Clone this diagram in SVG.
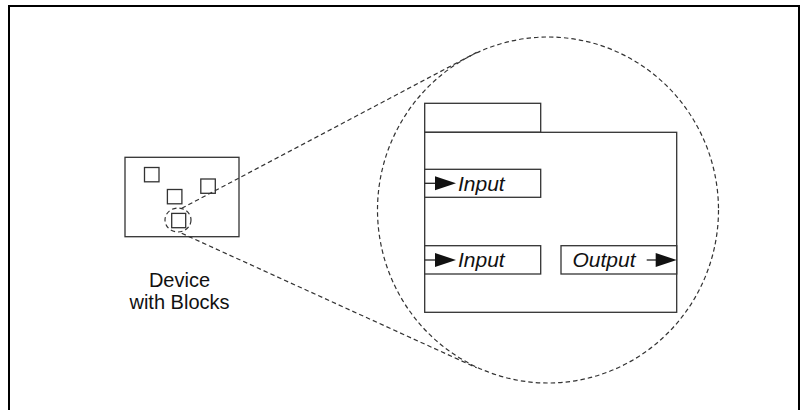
<svg xmlns="http://www.w3.org/2000/svg" width="800" height="410" viewBox="0 0 800 410">
<style>
.box{fill:#fff;stroke:#333;stroke-width:1.3}
.dash{fill:none;stroke:#333;stroke-width:1.2;stroke-dasharray:4.5 3}
.lbl{font-family:"Liberation Sans",Arial,sans-serif;font-size:20px;fill:#111}
.port{font-family:"Liberation Sans",Arial,sans-serif;font-size:21px;font-style:italic;fill:#111}
.wire{stroke:#222;stroke-width:1.3}
.tri{fill:#111}
</style>
<rect width="800" height="410" fill="#fff"/>
<g id="frame">
<path d="M9,410 V6 H799 V410" fill="none" stroke="#000" stroke-width="2"/>
</g>
<g id="device">
<rect class="box" x="125" y="157.3" width="114" height="79.4"/>
<rect class="box" x="144.5" y="167.5" width="14.5" height="14.3"/>
<rect class="box" x="200.8" y="179" width="14.5" height="14.3"/>
<rect class="box" x="167.4" y="189.5" width="14.5" height="14.3"/>
<rect class="box" x="171.7" y="213.4" width="14" height="14.3"/>
<text class="lbl" x="179.5" y="286.5" text-anchor="middle">Device</text>
<text class="lbl" x="179.5" y="309.3" text-anchor="middle">with Blocks</text>
</g>
<g id="connectors">
<ellipse class="dash" cx="178" cy="220" rx="13" ry="12"/>
<line class="dash" x1="181.7" y1="208.3" x2="476.7" y2="52.4"/>
<line class="dash" x1="181.7" y1="233.3" x2="476.7" y2="367.8"/>
<ellipse class="dash" cx="548" cy="210" rx="170.5" ry="173"/>
</g>
<g id="block">
<rect class="box" x="424.7" y="103.3" width="116" height="29"/>
<rect class="box" x="424.7" y="132.3" width="252" height="180"/>
</g>
<g id="input1">
<rect class="box" x="424.7" y="169.3" width="116" height="28"/>
<line class="wire" x1="424.7" y1="183.3" x2="437" y2="183.3"/>
<polygon class="tri" points="435,176.3 456,183.3 435,190.3"/>
<text class="port" x="458" y="190.5">Input</text>
</g>
<g id="input2">
<rect class="box" x="424.7" y="245.7" width="116" height="28.3"/>
<line class="wire" x1="424.7" y1="260" x2="437" y2="260"/>
<polygon class="tri" points="435,253 456,260 435,267"/>
<text class="port" x="458" y="267">Input</text>
</g>
<g id="output">
<rect class="box" x="561" y="245.7" width="115.7" height="28.3"/>
<text class="port" x="572.5" y="267">Output</text>
<line class="wire" x1="646.7" y1="260" x2="658" y2="260"/>
<polygon class="tri" points="655.7,253 676.7,260 655.7,267"/>
</g>
</svg>
